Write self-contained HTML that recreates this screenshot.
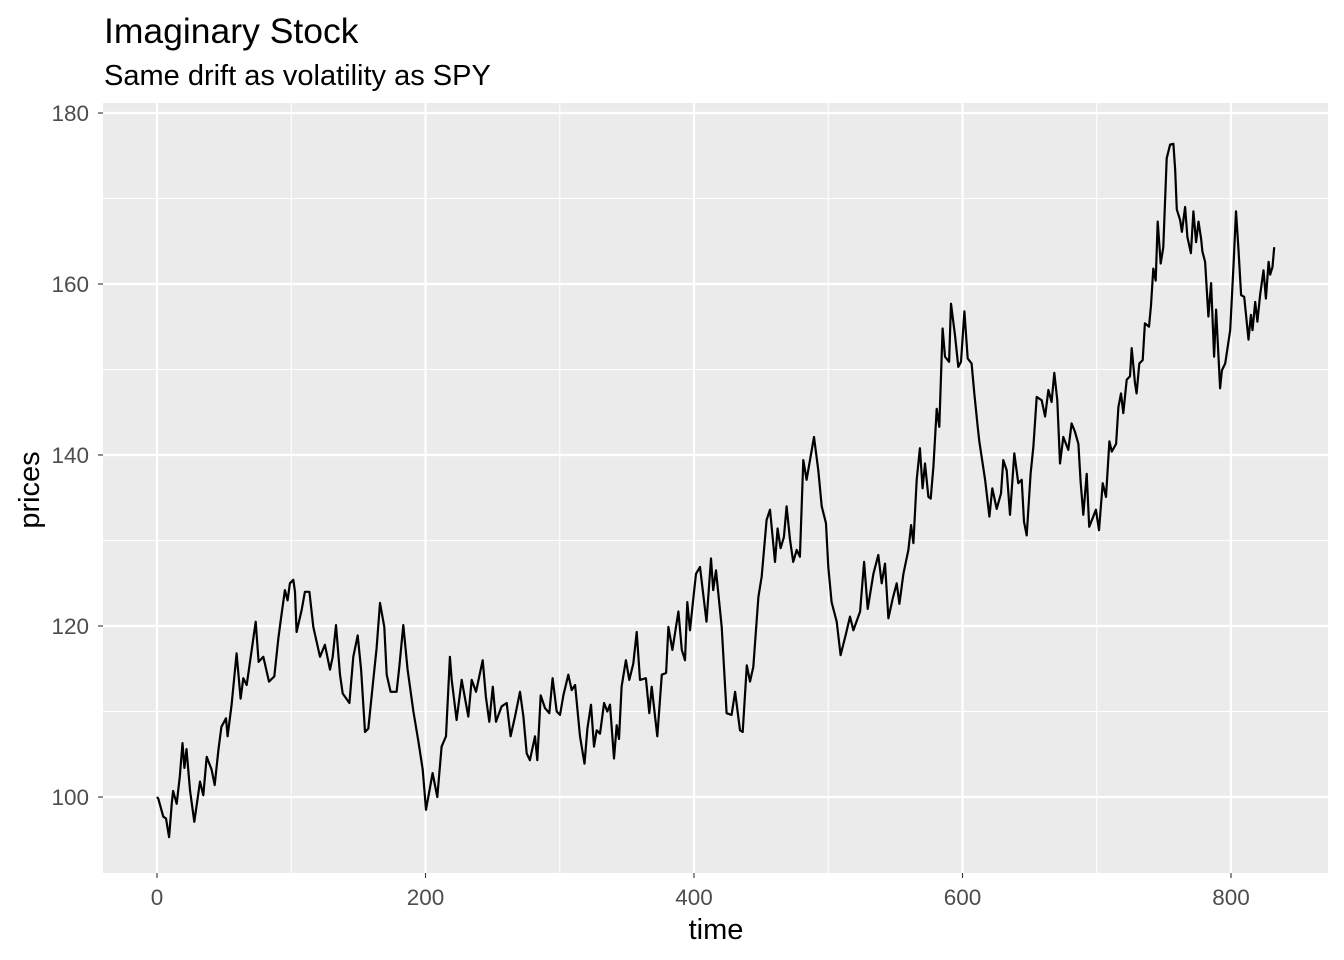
<!DOCTYPE html>
<html><head><meta charset="utf-8"><style>
html,body{margin:0;padding:0;background:#fff;}
svg{display:block;font-family:"Liberation Sans",Arial,sans-serif;}
</style></head><body>
<svg id="chart" width="1344" height="960" viewBox="0 0 1344 960">
<rect x="0" y="0" width="1344" height="960" fill="#fff"/>
<text x="104" y="43" font-size="35.5" fill="#000">Imaginary Stock</text>
<text x="104" y="85" font-size="29" fill="#000">Same drift as volatility as SPY</text>
<rect x="103" y="103" width="1225" height="770" fill="#EBEBEB"/>
<g id="grid"></g>
<g id="axes"></g>
<path id="line" fill="none" stroke="#000" stroke-width="2.2" stroke-linejoin="round"/>
<text x="716" y="939" font-size="29" text-anchor="middle" fill="#000">time</text>
<text transform="translate(39,490) rotate(-90)" font-size="29" text-anchor="middle" fill="#000">prices</text>
</svg>
<script>
const times=[0,1,4.7,6.7,9,11,12,14.7,17,19,20.4,22,24.6,27.8,32,34.5,37,40.7,43,45.7,48,51.4,52.6,55.6,59.3,62.3,64.3,66.8,69.3,73.5,75.7,79.2,83.4,87.4,90.4,92.4,95.3,97.3,99,101.5,102.8,104,107.8,110.2,113.5,116.4,121.4,125.1,128.9,130.9,133.3,136.3,138.3,143.3,146.2,149.5,152,154.9,157.4,161.1,163.6,166.1,169.3,171.1,174,178.5,180.5,183.5,186.7,191,194.7,197.9,200.4,205.3,208.8,212,215.3,218.2,219.5,223.2,227,231.9,234.4,237.6,240.1,242.6,245,247.5,250.1,252.5,256.7,260.5,263.4,266.7,270.4,272.9,275.4,277.8,281.6,283.3,285.8,289,292.2,294.7,297.7,300.2,302.7,306.4,308.9,311.4,315.1,318.4,320.6,323.3,325.5,327.5,330,333,335.4,337.4,340.4,342.4,344.1,346.1,349.3,351.8,354.8,357.3,359.8,364.2,366.7,368.5,372.7,376,379.2,380.9,383.9,388.4,390.9,393.3,395,397,399.5,401.5,404.5,409.3,412.7,414.3,416.4,420.6,424.3,428,430.6,434.3,436.3,439.3,441.7,444.2,448,450.4,454.1,456.6,460.3,462.3,464.5,467,469,471.5,473.9,476.5,478.9,481.4,483.9,486.4,489.4,492.6,495.1,498.3,500,502.5,506.3,509.2,513.2,516.2,518.7,523.7,526.7,529.4,533.6,537.3,539.8,542.3,544.8,548,551,553,556,559.7,561.7,563.4,565.9,568.3,570.3,572.1,574.6,576.3,578.3,580.8,582.7,585.2,587,590,591.4,594.4,596.9,598.9,601.4,603.9,606.8,608.8,611.3,612.5,616.8,620,622.2,625.5,628.7,630.4,632.9,635.4,638.6,641.6,644.1,645.8,647.8,650.7,652.8,655.3,659,661.5,664,666.4,668.4,670.6,672.6,675.1,678.8,681.3,683.8,686.3,688,690,692.5,694.4,696.9,699.4,701.7,704.4,706.9,709.4,711.2,714.4,716.1,718.1,719.8,722.3,724.8,726,728.5,729.7,731.7,734.2,735.9,738.9,740.4,742.1,743.9,745.4,747.6,749.6,752.1,754.6,757.1,758.4,759.6,762.1,763.4,765.8,767.5,770.1,772,774,775.8,777.7,778.7,780.7,783.2,785.2,787.4,788.9,791.9,793.2,795.7,799.4,801.9,803.7,805.6,807.5,809.8,813,814.8,816,818,819.7,821.7,824.2,826,828,829.2,830.9,832.2];
const prices=[100,99.8,97.7,97.5,95.3,99.3,100.7,99.2,102.4,106.3,103.4,105.6,100.8,97.1,101.8,100.2,104.7,103.2,101.4,105.5,108.2,109.2,107.1,110.8,116.8,111.5,113.9,113.1,115.8,120.5,115.8,116.4,113.5,114.1,118.6,120.9,124.2,123,125,125.4,124,119.3,121.9,124,124,119.9,116.4,117.8,114.9,116.4,120.1,114.3,112.1,111,116.4,118.9,114.9,107.6,108,113.7,117.4,122.7,119.9,114.3,112.3,112.3,115.2,120.1,114.9,110,106.5,103.2,98.5,102.8,100,105.9,107.1,116.4,113.7,109,113.7,109.4,113.7,112.3,114.1,116,111.7,108.8,112.9,108.8,110.6,111,107.1,109.4,112.3,109.4,105.1,104.3,107.1,104.3,111.9,110.4,109.8,113.9,110,109.6,111.9,114.3,112.5,113.1,107.1,103.9,108,110.8,105.9,107.8,107.4,111,110,110.8,104.5,108.4,106.8,112.9,116,113.7,115.6,119.3,113.7,113.9,109.8,112.9,107.1,114.3,114.5,119.9,117.2,121.7,117.2,116,122.8,119.5,123.2,126.1,126.9,120.5,127.9,124.2,126.5,119.9,109.8,109.6,112.3,107.8,107.6,115.4,113.5,115.2,123.4,125.8,132.4,133.6,127.5,131.4,129.1,130.4,134,130.1,127.5,128.9,128.1,139.4,137.1,139.4,142.1,138.2,134,132,126.9,122.8,120.5,116.6,119.1,121.1,119.5,121.7,127.5,122,126.1,128.3,125,127.3,120.9,123.2,125,122.6,126.1,128.9,131.8,129.7,137.1,140.8,136.1,139,135.1,134.9,138.6,145.4,143.3,154.8,151.5,150.9,157.7,154,150.3,150.9,156.8,151.3,150.7,147.2,143.3,141.6,137.1,132.8,136.1,133.7,135.5,139.4,138.2,133,140.2,136.7,137.1,132.2,130.6,137.8,141,146.8,146.4,144.5,147.6,146.2,149.6,146.4,139,142.1,140.6,143.7,142.7,141.3,136.9,133,137.8,131.6,132.6,133.6,131.2,136.7,135.1,141.6,140.4,141.3,145.6,147.2,144.9,148.8,149.2,152.5,148.4,147.2,150.7,151.1,155.4,155,157.5,161.8,160.4,167.3,162.4,164.3,174.7,176.3,176.4,173.3,168.7,167.5,166.1,169,165.5,163.6,168.5,164.9,167.3,165.3,163.8,162.6,156.2,160.1,151.5,157,147.8,149.9,150.7,154.6,162.4,168.5,164,158.7,158.5,153.5,156.4,154.6,157.9,155.6,158.7,161.6,158.3,162.6,161.1,162,164.3];
const yTicks=[100,120,140,160,180];
const yMinor=[110,130,150,170];
const xTicks=[0,200,400,600,800];
const xMinor=[100,300,500,700];

const NS='http://www.w3.org/2000/svg';
const X0=103,X1=1328,Y0=103,Y1=873;
function sx(t){return 157+t*1.3425;}
function sy(p){return 797-(p-100)*8.55;}
const grid=document.getElementById('grid');
const axes=document.getElementById('axes');
function mk(tag,attrs,parent){const e=document.createElementNS(NS,tag);for(const k in attrs)e.setAttribute(k,attrs[k]);parent.appendChild(e);return e;}
yMinor.forEach(v=>{const l=mk('line',{x1:X0,x2:X1,y1:sy(v),y2:sy(v),stroke:'#fff','stroke-width':1.1},grid);

});
xMinor.forEach(v=>{const l=mk('line',{x1:sx(v),x2:sx(v),y1:Y0,y2:Y1,stroke:'#fff','stroke-width':1.1},grid);

});
yTicks.forEach(v=>{const y=sy(v);
const l=mk('line',{x1:X0,x2:X1,y1:y,y2:y,stroke:'#fff','stroke-width':2.2},grid);


const tk=mk('line',{x1:X0-5,x2:X0,y1:y,y2:y,stroke:'#333','stroke-width':1.1},axes);


const tx=mk('text',{x:X0-14,y:y+8,'font-size':22.5,'text-anchor':'end',fill:'#4D4D4D'},axes);tx.textContent=v;

});
xTicks.forEach(v=>{const x=sx(v);
const l=mk('line',{x1:x,x2:x,y1:Y0,y2:Y1,stroke:'#fff','stroke-width':2.2},grid);


const tk=mk('line',{x1:x,x2:x,y1:Y1,y2:Y1+5,stroke:'#333','stroke-width':1.1},axes);


const tx=mk('text',{x:x,y:Y1+32,'font-size':22.5,'text-anchor':'middle',fill:'#4D4D4D'},axes);tx.textContent=v;

});
let d='';
times.forEach((t,i)=>{d+=(i?'L':'M')+sx(t).toFixed(1)+','+sy(prices[i]).toFixed(1);});
document.getElementById('line').setAttribute('d',d);
</script>
</body></html>
